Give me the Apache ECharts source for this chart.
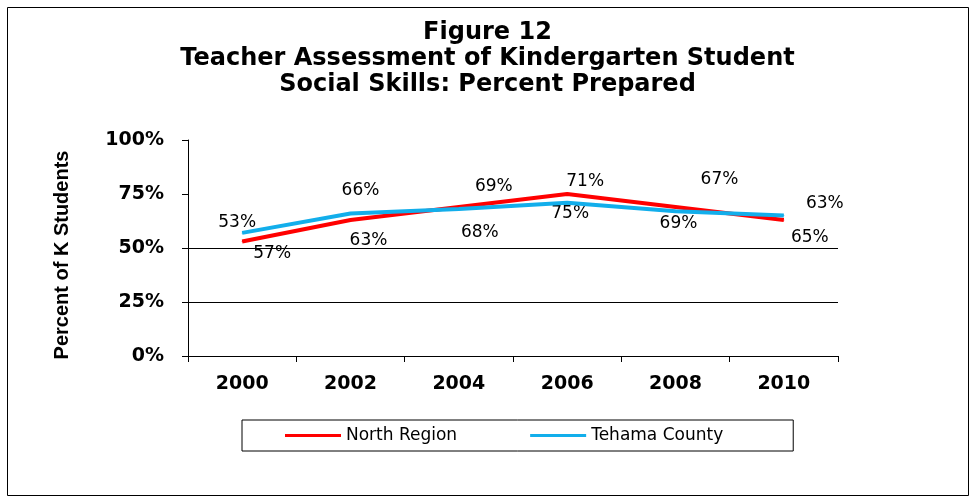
<!DOCTYPE html>
<html>
<head>
<meta charset="utf-8">
<script src="https://cdn.jsdelivr.net/npm/echarts@6/dist/echarts.min.js"></script>
<style>
html,body{margin:0;padding:0;background:#fff;}
#c{width:975px;height:502px;}
</style>
</head>
<body>
<div id="c"></div>
<script>
const years = ['2000','2002','2004','2006','2008','2010'];
const northRegion = [53, 63, 69, 75, 69, 63];
const tehamaCounty = [57, 66, 68, 71, 67, 65];
const yTicks = [0, 25, 50, 75, 100];
const gridLines = [25, 50];

// label placement (offset from point, px) — styling only
const northLabelOffsets = [[-5,-19],[18,21],[35,-20],[3,20],[3,17],[41,-16]];
const tehamaLabelOffsets = [[30,21],[10,-23],[21,23],[18,-21],[44,-32],[26,22]];

const labelFont = {fontFamily:'DejaVu Sans', fontSize:17, color:'#000'};

function buildData(vals, offs){
  return vals.map((v,i)=>({
    value:v,
    label:{show:true, position:'inside', offset:offs[i], formatter:'{c}%', ...labelFont}
  }));
}

const chart = echarts.init(document.getElementById('c'), null, {renderer:'canvas'});
chart.setOption({
  animation:false,
  backgroundColor:'#fff',
  title:{
    text:'Figure 12\nTeacher Assessment of Kindergarten Student\nSocial Skills: Percent Prepared',
    left:'center', top:15,
    textStyle:{fontFamily:'DejaVu Sans', fontWeight:'bold', fontSize:24, lineHeight:26, color:'#000'}
  },
  graphic:[{
    type:'rect', shape:{x:7.5,y:7.5,width:961,height:488},
    style:{fill:null, stroke:'#000', lineWidth:1}, silent:true, z:-1
  }],
  legend:{
    data:['North Region','Tehama County'],
    left:242, top:420,
    padding:[7,70,7,43],
    borderColor:'#000', borderWidth:1,
    itemWidth:56, itemHeight:3, itemGap:73, itemTextGap:2,
    icon:'rect',
    textStyle:{fontFamily:'DejaVu Sans', fontSize:17, color:'#000'}
  },
  grid:{left:188, right:137, top:140, bottom:146, containLabel:false},
  xAxis:{
    type:'category', data:years, boundaryGap:true,
    axisLine:{show:true, lineStyle:{color:'#000', width:1}},
    axisTick:{show:true, length:6, inside:false, alignWithLabel:false, lineStyle:{color:'#000'}},
    axisLabel:{margin:19, fontFamily:'DejaVu Sans', fontWeight:'bold', fontSize:19, color:'#000'},
    splitLine:{show:false}
  },
  yAxis:{
    type:'value', min:yTicks[0], max:yTicks[yTicks.length-1], interval:25,
    name:'Percent of K Students', nameLocation:'middle', nameGap:116, nameRotate:90,
    nameTextStyle:{fontFamily:'Liberation Sans', fontWeight:'bold', fontSize:20, color:'#000', padding:[0,14,0,0]},
    axisLine:{show:true, lineStyle:{color:'#000', width:1}},
    axisTick:{show:true, length:6, lineStyle:{color:'#000'}},
    axisLabel:{margin:24, formatter:'{value}%', fontFamily:'DejaVu Sans', fontWeight:'bold', fontSize:19, color:'#000'},
    splitLine:{show:false}
  },
  series:[
    {
      name:'North Region', type:'line', data:buildData(northRegion, northLabelOffsets),
      symbol:'circle', symbolSize:1, showSymbol:true,
      itemStyle:{color:'#FF0000'}, lineStyle:{color:'#FF0000', width:4}, z:3,
      markLine:{
        silent:true, symbol:'none', label:{show:false},
        lineStyle:{color:'#000', width:1, type:'solid'},
        data:gridLines.map(v=>({yAxis:v})), z:1
      }
    },
    {
      name:'Tehama County', type:'line', data:buildData(tehamaCounty, tehamaLabelOffsets),
      symbol:'circle', symbolSize:1, showSymbol:true,
      itemStyle:{color:'#12AEEB'}, lineStyle:{color:'#12AEEB', width:4}, z:4
    }
  ]
});
</script>
</body>
</html>
